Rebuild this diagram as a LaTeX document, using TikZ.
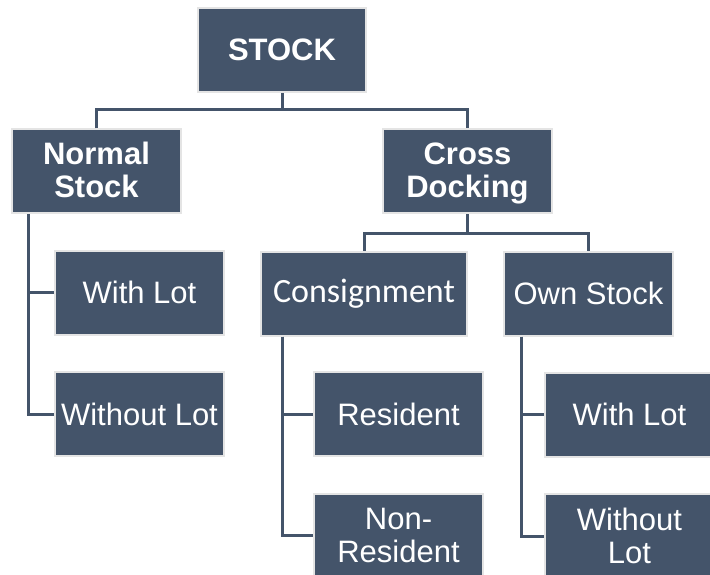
\documentclass[tikz,border=0pt]{standalone}
\usepackage{fontspec}
\setmainfont{Liberation Sans}
\newfontfamily\calfont{Carlito}
\definecolor{slate}{HTML}{44546A}
\definecolor{rim}{HTML}{E4E4E4}
\tikzset{
  box/.style={rectangle, fill=slate, draw=rim, line width=2pt, text=white,
    align=center, inner sep=0pt, minimum width=169pt, minimum height=84pt,
    font=\fontsize{31}{33}\selectfont},
  boldbox/.style={box, font=\fontsize{31}{33}\selectfont\bfseries},
  link/.style={draw=slate, line width=3pt}
}
\newcommand{\toproom}{\rule{0pt}{26.5pt}}
\begin{document}
\begin{tikzpicture}[x=1pt, y=-1pt]
  \useasboundingbox (0,0) rectangle (710,575);
  \clip (0,0) rectangle (710,575);
  \fill[white] (0,0) rectangle (710,575);

  % top level
  \node[boldbox, minimum width=168pt] (stock) at (282,50) {STOCK};
  \node[boldbox] (normal) at (96.5,171.5) {\toproom Normal\\Stock\vphantom{g}};
  \node[boldbox] (cross) at (467.5,171.5) {\toproom Cross\\Docking};

  % normal stock branch
  \node[box] (wl1) at (139.5,292.5) {With Lot};
  \node[box] (wol1) at (139.5,414) {Without Lot};

  % cross docking branch
  \node[box, minimum width=206pt, font=\fontsize{34}{36}\selectfont\calfont] (cons) at (364,293.5) {Consignment};
  \node[box] (own) at (588.5,293.5) {Own Stock};
  \node[box] (res) at (398.5,414) {Resident};
  \node[box] (nres) at (398.5,535.5) {Non-\\Resident};
  \node[box] (wl2) at (629.5,414.5) {With Lot};
  \node[box] (wol2) at (629.5,536) {Without\\Lot};

  % connectors
  \coordinate (bus1) at (282,110);
  \draw[link] (stock.south) -- (bus1);
  \draw[link] (normal.north) |- (bus1) -| (cross.north);

  \coordinate (bus2) at (467.5,233);
  \draw[link] (cross.south) -- (bus2);
  \draw[link] (cons.north) |- (bus2) -| (own.north);

  \draw[link] ([xshift=17pt]normal.south west) |- (wl1.west);
  \draw[link] ([xshift=17pt]normal.south west) |- (wol1.west);

  \draw[link] ([xshift=22pt]cons.south west) |- (res.west);
  \draw[link] ([xshift=22pt]cons.south west) |- (nres.west);

  \draw[link] ([xshift=18pt]own.south west) |- (wl2.west);
  \draw[link] ([xshift=18pt]own.south west) |- (wol2.west);
\end{tikzpicture}
\end{document}
